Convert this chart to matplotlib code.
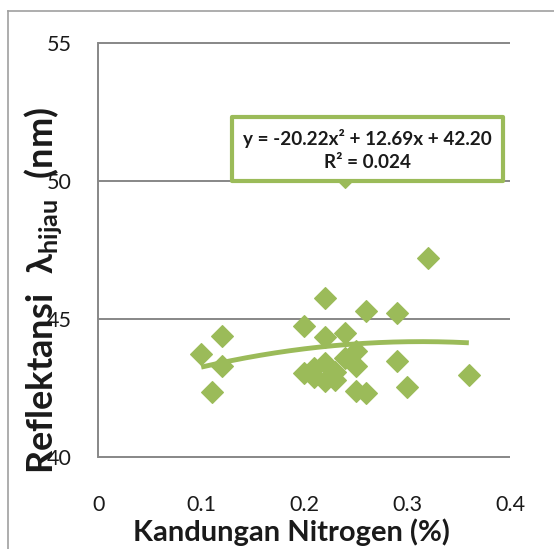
import matplotlib
matplotlib.use("Agg")
import matplotlib.pyplot as plt
from matplotlib.patches import Rectangle
from matplotlib.lines import Line2D
import numpy as np

# Nitrogen content (%) and green-band reflectance (nm)
nitrogen = [0.10, 0.11, 0.12, 0.12, 0.20, 0.20, 0.21, 0.21, 0.22, 0.22,
            0.22, 0.22, 0.23, 0.23, 0.24, 0.24, 0.25, 0.25, 0.25, 0.26,
            0.26, 0.29, 0.29, 0.30, 0.32, 0.36, 0.24]
reflectance = [43.75, 42.37, 44.40, 43.30, 44.77, 43.04, 43.25, 42.90, 45.76, 44.36,
               43.40, 42.75, 43.10, 42.80, 44.50, 43.60, 43.85, 43.30, 42.42, 45.30,
               42.32, 45.22, 43.50, 42.53, 47.23, 42.98, 50.15]

# Polynomial trendline (order 2) and its fit statistic
trend_coef = [-20.22, 12.69, 42.20]
r_squared = 0.024

x_ticks = [0, 0.1, 0.2, 0.3, 0.4]
x_tick_labels = ["0", "0.1", "0.2", "0.3", "0.4"]
y_ticks = [40, 45, 50, 55]
y_tick_labels = ["40", "45", "50", "55"]

GREEN = "#9BBB59"
GRID = "#878787"
FONT = ["Lato", "DejaVu Sans"]

plt.rcParams["font.family"] = FONT
plt.rcParams["mathtext.fontset"] = "custom"
plt.rcParams["mathtext.rm"] = "Lato:bold"
plt.rcParams["mathtext.bf"] = "Lato:bold"
plt.rcParams["mathtext.it"] = "Lato:bold"

W, H = 554, 549
fig = plt.figure(figsize=(W / 100, H / 100), dpi=100)

left, right, top, bottom = 98.3, 510.0, 43.3, 457.3
ax = fig.add_axes([left / W, 1 - bottom / H, (right - left) / W, (bottom - top) / H])
ax.set_xlim(0, 0.4)
ax.set_ylim(40, 55)

for s in ("top", "right", "bottom"):
    ax.spines[s].set_visible(False)
ax.spines["left"].set_color(GRID)
ax.spines["left"].set_linewidth(1.4)

ax.hlines(y_ticks, 0, 0.4, colors=GRID, linewidth=1.4, zorder=1, clip_on=False)

ax.set_xticks(x_ticks)
ax.set_xticklabels(x_tick_labels)
ax.set_yticks(y_ticks)
ax.set_yticklabels(y_tick_labels)
ax.tick_params(axis="x", length=0, pad=27, labelsize=15.5, labelcolor="#1a1a1a")
ax.tick_params(axis="y", length=0, pad=19, labelsize=15.5, labelcolor="#1a1a1a")

# data points
ax.plot(nitrogen, reflectance, linestyle="none", marker="D", markersize=11.5,
        color=GREEN, markeredgecolor=GREEN, markeredgewidth=0.8, zorder=3, clip_on=False)

# trendline over the observed range
xs = np.linspace(min(nitrogen), max(nitrogen), 200)
ax.plot(xs, np.polyval(trend_coef, xs), color=GREEN, linewidth=3.5,
        solid_capstyle="butt", zorder=4)

# equation label box
bx0, by0, bx1, by1 = 232, 117, 503, 181
box = Rectangle((bx0 / W, 1 - by1 / H), (bx1 - bx0) / W, (by1 - by0) / H,
                transform=fig.transFigure, facecolor="white", edgecolor=GREEN,
                linewidth=3.0, joinstyle="round", zorder=5)
fig.add_artist(box)
eq = "y = {:.2f}x² + {:.2f}x + {:.2f}".format(trend_coef[0], trend_coef[1], trend_coef[2])
fig.text(367 / W, 1 - 138 / H, eq, ha="center", va="center", fontsize=13.6,
         fontweight="bold", color="#1a1a1a", zorder=6)
fig.text(367 / W, 1 - 162 / H, "R² = {:.3f}".format(r_squared), ha="center", va="center",
         fontsize=13.6, fontweight="bold", color="#1a1a1a", zorder=6)

# axis titles
fig.text(291 / W, 1 - 532 / H, "Kandungan Nitrogen (%)", ha="center", va="center",
         fontsize=21, fontweight="bold", color="#1a1a1a")
fig.text(44 / W, 1 - 290 / H, r"$\mathbf{Reflektansi\ \ \lambda_{hijau}\ \ (nm)}$",
         rotation=90, ha="center", va="center", fontsize=26, color="#1a1a1a")

# outer chart frame
fig.add_artist(Line2D([8 / W, 8 / W], [1 - 11 / H, 0], transform=fig.transFigure,
                      color="#a0a0a0", linewidth=1.2))
fig.add_artist(Line2D([8 / W, 1], [1 - 11 / H, 1 - 11 / H], transform=fig.transFigure,
                      color="#a0a0a0", linewidth=1.2))

fig.savefig("out.png", dpi=100)
